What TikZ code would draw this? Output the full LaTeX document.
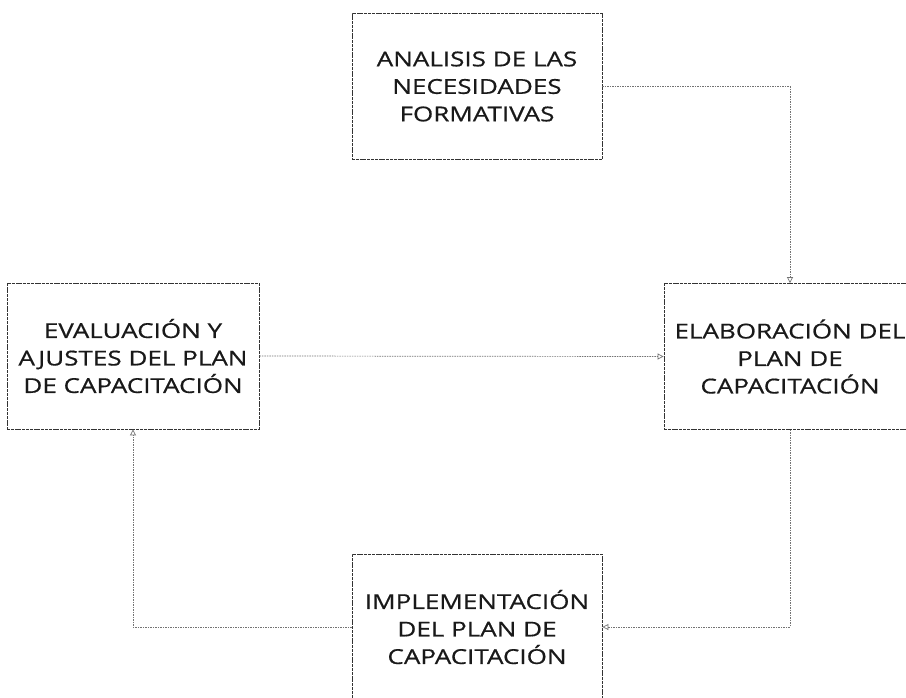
\documentclass[tikz,border=0pt]{standalone}
\usepackage{fontspec}
\setmainfont[FakeStretch=1.27,FakeBold=0.6]{Open Sans}
\usetikzlibrary{arrows.meta}
\begin{document}
\begin{tikzpicture}[x=1pt,y=-1pt,
  stagebox/.style={draw=black!80, line width=0.8pt, dash pattern=on 3pt off 0.8pt,
    minimum width=250pt, minimum height=146pt, inner sep=0pt,
    align=center, font=\fontsize{20.5}{27.5}\selectfont, text=black!90},
  link/.style={draw=black!55, line width=0.7pt, dash pattern=on 1.5pt off 1pt,
    -{Triangle[open, length=6pt, width=6pt]}}]
\clip (0,0) rectangle (906,697);
\fill[white] (0,0) rectangle (906,697);
\node[stagebox] (top) at (477,86.5) {ANALISIS DE LAS\\NECESIDADES\\FORMATIVAS};
\node[stagebox, minimum width=252pt] (left) at (133,356) {EVALUACIÓN Y\\AJUSTES DEL PLAN\\DE CAPACITACIÓN};
\node[stagebox, minimum width=252pt] (right) at (790,356.5) {ELABORACIÓN DEL\\PLAN DE\\CAPACITACIÓN};
\node[stagebox] (bottom) at (477,627) {IMPLEMENTACIÓN\\DEL PLAN DE\\CAPACITACIÓN};
\draw[link] (top.east) -| (right.north);
\draw[link] (left.east) -- (right.west);
\draw[link] (right.south) |- (bottom.east);
\draw[link] (bottom.west) -| (left.south);
\end{tikzpicture}
\end{document}
